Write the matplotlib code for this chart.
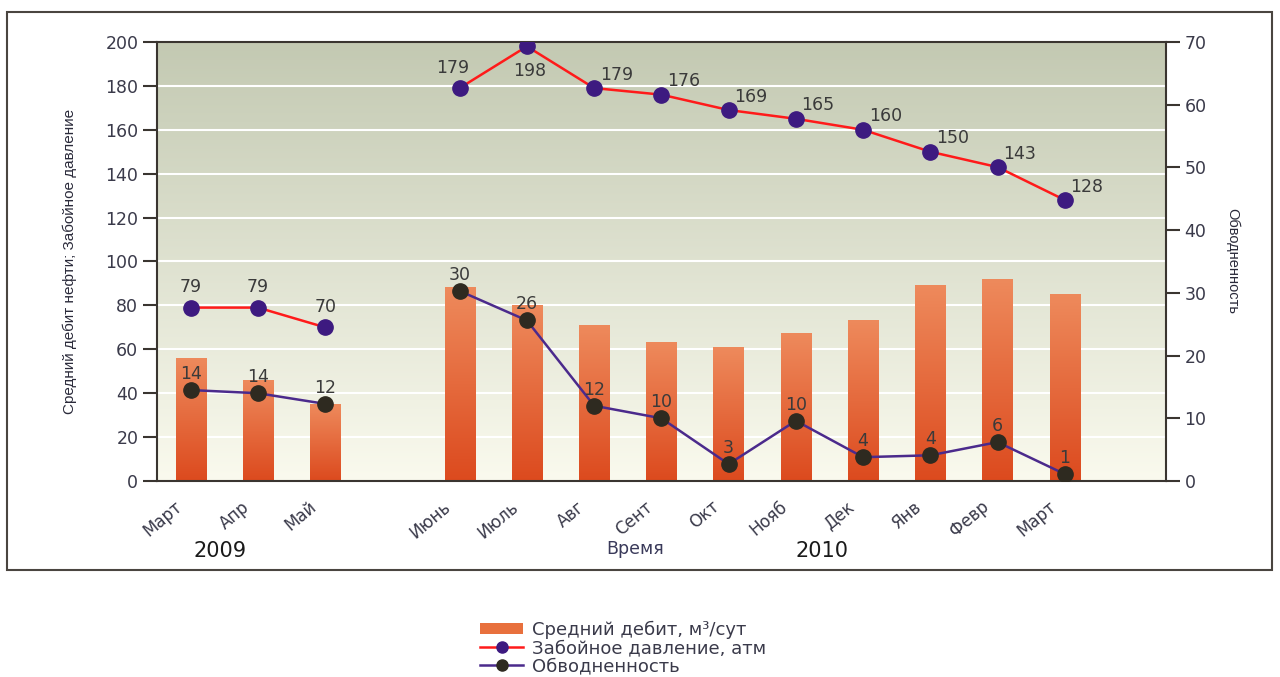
import matplotlib.pyplot as plt
import numpy as np
import matplotlib.transforms as mtransforms
from matplotlib.colors import LinearSegmentedColormap
from matplotlib.lines import Line2D
from matplotlib.patches import Patch, Rectangle

plt.rcParams['font.family'] = ['DejaVu Sans']

# месяцы по годам
months_2009 = ['Март', 'Апр', 'Май']
months_2010 = ['Июнь', 'Июль', 'Авг', 'Сент', 'Окт', 'Нояб', 'Дек', 'Янв', 'Февр', 'Март']

# средний дебит, м3/сут (левая ось)
debit_2009 = [56, 46, 35]
debit_2010 = [88, 80, 71, 63, 61, 67, 73, 89, 92, 85]

# забойное давление, атм (левая ось)
pressure_2009 = [79, 79, 70]
pressure_2010 = [179, 198, 179, 176, 169, 165, 160, 150, 143, 128]

# обводненность, % (правая ось) - значения по графику и подписи
water_2009 = [14.5, 14.0, 12.3]
water_2010 = [30.3, 25.6, 12.0, 10.0, 2.7, 9.6, 3.8, 4.1, 6.2, 1.1]
water_lbl_2009 = [14, 14, 12]
water_lbl_2010 = [30, 26, 12, 10, 3, 10, 4, 4, 6, 1]

# позиции: между годами пустой слот, и еще один в конце
x09 = np.arange(len(months_2009))
x10 = np.arange(len(months_2010)) + len(months_2009) + 1
xs = np.concatenate([x09, x10])
labels = months_2009 + months_2010
nslots = len(months_2009) + 1 + len(months_2010) + 1

txt_col = '#3a3a4a'

fig = plt.figure(figsize=(12.8, 6.77), dpi=100)
ax = fig.add_axes([0.1227, 0.2895, 0.788, 0.6485])

# рамка вокруг графика
fig.patches.append(Rectangle((0.0055, 0.158), 0.9885, 0.824, transform=fig.transFigure,
                             fill=False, edgecolor='#4a4540', linewidth=1.5))

# фон с градиентом
bg_cmap = LinearSegmentedColormap.from_list('bg', ['#fafaee', '#c3c9b2'])
grad = np.linspace(0, 1, 256).reshape(-1, 1)
ax.imshow(grad, cmap=bg_cmap, aspect='auto', origin='lower',
          extent=[-0.5, nslots - 0.5, 0, 200], zorder=0)

for yv in range(20, 200, 20):
    ax.axhline(yv, color='white', linewidth=1.5, zorder=1)

# столбцы с градиентом
bar_cmap = LinearSegmentedColormap.from_list('bar', ['#dc4a1e', '#ee8a5c'])
w = 0.45
debits = debit_2009 + debit_2010
for x, h in zip(xs, debits):
    ax.imshow(grad, cmap=bar_cmap, aspect='auto', origin='lower',
              extent=[x - w / 2, x + w / 2, 0, h], zorder=2)

ax.set_xlim(-0.5, nslots - 0.5)
ax.set_ylim(0, 200)
ax.set_yticks(range(0, 201, 20))
ax.set_xticks(xs)
ax.set_xticklabels(labels, rotation=40, ha='right', rotation_mode='anchor')
ax.tick_params(axis='x', length=0, pad=12, labelsize=12, labelcolor=txt_col)
ax.tick_params(axis='y', length=10, width=1.5, color='#3a3530', labelsize=12.5, labelcolor=txt_col)
shift = mtransforms.ScaledTranslation(-0.17, 0, fig.dpi_scale_trans)
for lab in ax.get_xticklabels():
    lab.set_transform(lab.get_transform() + shift)
for s in ax.spines.values():
    s.set_color('#3a3530')
    s.set_linewidth(1.5)
ax.set_ylabel('Средний дебит нефти; Забойное давление', fontsize=11, color='#2a2a3a',
              family=['Liberation Sans'], labelpad=20)

# забойное давление
ax.plot(x09, pressure_2009, '-o', color='#ff1a1a', lw=1.8, ms=11,
        mfc='#3d1a80', mec='#3d1a80', zorder=5)
ax.plot(x10, pressure_2010, '-o', color='#ff1a1a', lw=1.8, ms=11,
        mfc='#3d1a80', mec='#3d1a80', zorder=5)
for x, v in zip(x09, pressure_2009):
    ax.annotate(str(v), (x, v), xytext=(0, 11), textcoords='offset points',
                ha='center', fontsize=12.5, color='#3a3a3a', zorder=6)
for i, (x, v) in enumerate(zip(x10, pressure_2010)):
    if i == 0:
        off = (-5, 11)
    elif i == 1:
        off = (2, -21)
    else:
        off = (16, 6)
    ax.annotate(str(v), (x, v), xytext=off, textcoords='offset points',
                ha='center', fontsize=12.5, color='#3a3a3a', zorder=6)

# обводненность
ax2 = ax.twinx()
ax2.set_ylim(0, 70)
ax2.set_yticks(range(0, 71, 10))
ax2.tick_params(axis='y', length=10, width=1.5, color='#3a3530', labelsize=12.5, labelcolor=txt_col)
for s in ax2.spines.values():
    s.set_visible(False)
ax2.plot(x09, water_2009, '-o', color='#4b2a8c', lw=1.8, ms=11,
         mfc='#2e2a20', mec='#2e2a20', zorder=5)
ax2.plot(x10, water_2010, '-o', color='#4b2a8c', lw=1.8, ms=11,
         mfc='#2e2a20', mec='#2e2a20', zorder=5)
for x, v, t in zip(xs, water_2009 + water_2010, water_lbl_2009 + water_lbl_2010):
    ax2.annotate(str(t), (x, v), xytext=(0, 8), textcoords='offset points',
                 ha='center', fontsize=12.5, color='#3a3a3a', zorder=6)
ax2.set_ylabel('Обводненность', rotation=-90, fontsize=10.5, color='#2a2a3a',
               family=['Liberation Sans'], labelpad=24)

fig.text(0.496, 0.189, 'Время', ha='center', va='center', fontsize=12.5, color='#3a3a5a')
fig.text(0.172, 0.186, '2009', ha='center', va='center', fontsize=15, color='#1a1a1a')
fig.text(0.642, 0.186, '2010', ha='center', va='center', fontsize=15, color='#1a1a1a')

handles = [
    Patch(facecolor='#e8703d'),
    Line2D([], [], color='#ff1a1a', lw=1.8, marker='o', ms=8, mfc='#3d1a80', mec='#3d1a80'),
    Line2D([], [], color='#4b2a8c', lw=1.8, marker='o', ms=8, mfc='#2e2a20', mec='#2e2a20'),
]
fig.legend(handles, ['Средний дебит, м³/сут', 'Забойное давление, атм', 'Обводненность'],
           loc='center', bbox_to_anchor=(0.487, 0.043), frameon=False, fontsize=13,
           handlelength=2.4, handleheight=0.6, labelspacing=0.0, handletextpad=0.5,
           labelcolor=txt_col)

fig.savefig('out.png', dpi=100)
